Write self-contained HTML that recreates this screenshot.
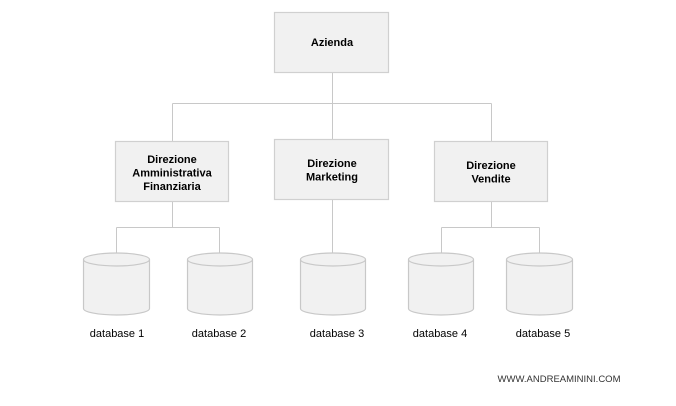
<!DOCTYPE html>
<html><head><meta charset="utf-8"><style>
html,body{margin:0;padding:0;background:#fff;}
svg text{font-family:"Liberation Sans",Arial,sans-serif;fill:#000;}
</style></head><body>
<svg width="676" height="401" viewBox="0 0 676 401" xmlns="http://www.w3.org/2000/svg">
<g stroke="#c8c8c8" stroke-width="1" fill="none">
<path d="M332.5 73V103.5M172.5 103.5H491.5M172.5 103.5V141M332.5 103.5V140M491.5 103.5V141"/>
<path d="M172.5 202V227.5M116.5 227.5H219.5M116.5 227.5V253M219.5 227.5V253"/>
<path d="M332.5 200V253"/>
<path d="M491.5 202V227.5M441.5 227.5H539.5M441.5 227.5V253M539.5 227.5V253"/>
</g>
<g fill="#f1f1f1" stroke="#d0d0d0" stroke-width="1.2">
<rect x="274.5" y="12.5" width="114" height="60"/>
<rect x="115.5" y="141.5" width="113" height="60"/>
<rect x="274.5" y="139.5" width="114" height="60"/>
<rect x="434.5" y="141.5" width="113" height="60"/>
</g>
<g font-size="11" font-weight="bold" text-anchor="middle">
<text x="332" y="46">Azienda</text>
<text x="172" y="163">Direzione</text>
<text x="172" y="176.5">Amministrativa</text>
<text x="172" y="190">Finanziaria</text>
<text x="332" y="167">Direzione</text>
<text x="332" y="180.5">Marketing</text>
<text x="491" y="169">Direzione</text>
<text x="491" y="182.5">Vendite</text>
</g>
<g fill="#f1f1f1" stroke="#c8c8c8" stroke-width="1.2">
<path d="M83.5 259.5v49a33 6.5 0 0 0 66 0v-49a33 6.5 0 0 0 -66 0a33 6.5 0 0 0 66 0"/>
<path d="M187.5 259.5v49a32.5 6.5 0 0 0 65 0v-49a32.5 6.5 0 0 0 -65 0a32.5 6.5 0 0 0 65 0"/>
<path d="M300.5 259.5v49a32.5 6.5 0 0 0 65 0v-49a32.5 6.5 0 0 0 -65 0a32.5 6.5 0 0 0 65 0"/>
<path d="M408.5 259.5v49a32.5 6.5 0 0 0 65 0v-49a32.5 6.5 0 0 0 -65 0a32.5 6.5 0 0 0 65 0"/>
<path d="M506.5 259.5v49a33 6.5 0 0 0 66 0v-49a33 6.5 0 0 0 -66 0a33 6.5 0 0 0 66 0"/>
</g>
<g font-size="11" text-anchor="middle">
<text x="117" y="337">database 1</text>
<text x="219" y="337">database 2</text>
<text x="337" y="337">database 3</text>
<text x="440" y="337">database 4</text>
<text x="543" y="337">database 5</text>
</g>
<text x="559" y="382" font-size="9.5" text-anchor="middle" style="fill:#333">WWW.ANDREAMININI.COM</text>
</svg>
</body></html>
